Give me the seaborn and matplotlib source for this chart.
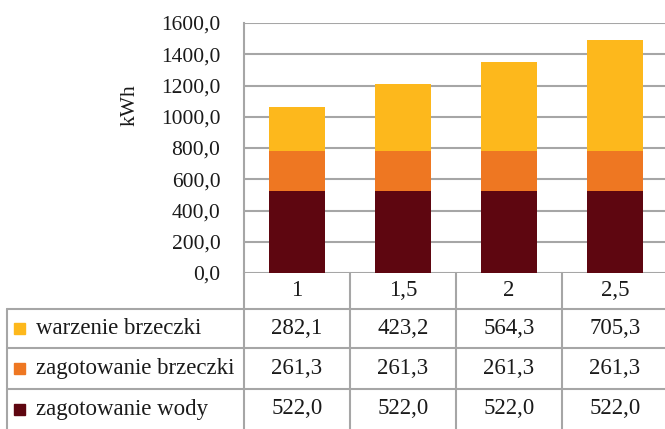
import numpy as np
import pandas as pd
import matplotlib
matplotlib.use("Agg")
import matplotlib.pyplot as plt
import seaborn as sns
from matplotlib.lines import Line2D
from matplotlib.patches import Rectangle

# Data
categories = ["1", "1,5", "2", "2,5"]
series_names = ["warzenie brzeczki", "zagotowanie brzeczki", "zagotowanie wody"]
warzenie_brzeczki = [282.1, 423.2, 564.3, 705.3]
zagotowanie_brzeczki = [261.3, 261.3, 261.3, 261.3]
zagotowanie_wody = [522.0, 522.0, 522.0, 522.0]
series_colors = ["#FDB81C", "#EE7722", "#5E0610"]
y_ticks = np.arange(0, 1601, 200)

W, H = 665, 429
GRID = "#A6A6A6"
TXT = "#1a1a1a"
FS_TICK = 15.5
FS = 16.5

sns.set_theme(style="white")
plt.rcParams["font.family"] = ["Liberation Serif", "DejaVu Serif"]

fig = plt.figure(figsize=(W / 100, H / 100), dpi=100)
ax = fig.add_axes([244 / W, (H - 273) / H, (668 - 244) / W, 250 / H])

df = pd.DataFrame({
    "kat": categories,
    "wody": zagotowanie_wody,
    "brzeczki": zagotowanie_brzeczki,
    "warzenie": warzenie_brzeczki,
})
df["lvl1"] = df["wody"]
df["lvl2"] = df["wody"] + df["brzeczki"]
df["lvl3"] = df["lvl2"] + df["warzenie"]

# stacked bars: draw the full stack first, lower segments on top of it
for col, color in zip(["lvl3", "lvl2", "lvl1"], series_colors):
    sns.barplot(data=df, x="kat", y=col, order=categories, color=color,
                saturation=1, width=0.52, errorbar=None, ax=ax, zorder=3,
                linewidth=0)

ax.set_ylim(0, 1600)
ax.set_xlim(-0.5, 3.5)
ax.set_yticks(y_ticks)
ax.set_yticklabels([f"{v:.1f}".replace(".", ",") for v in y_ticks],
                   fontsize=FS_TICK, color=TXT)
ax.set_xticks([])
ax.set_xlabel("")
ax.set_ylabel("")
ax.tick_params(axis="y", length=0, pad=17)
ax.yaxis.grid(True, color=GRID, linewidth=1.5)
ax.set_axisbelow(True)
for s in ["top", "right", "bottom"]:
    ax.spines[s].set_visible(False)
ax.spines["left"].set_color(GRID)
ax.spines["left"].set_linewidth(1.5)

fig.text(130 / W, 1 - 105 / H, "kWh", rotation=90, fontsize=FS_TICK,
         ha="center", va="center", color=TXT)


def px(x, y):
    return x / W, 1 - y / H


def hline(y, x0, x1):
    (a, b), (c, d) = px(x0, y), px(x1, y)
    fig.add_artist(Line2D([a, c], [b, d], color=GRID, lw=1.5))


def vline(x, y0, y1):
    (a, b), (c, d) = px(x, y0), px(x, y1)
    fig.add_artist(Line2D([a, c], [b, d], color=GRID, lw=1.5))


# data table below the plot
col_edges = [244, 350, 456, 562, 668]
row_edges = [273, 309, 348, 389, 429]
for x in col_edges[:-1]:
    vline(x, row_edges[0], row_edges[-1])
vline(7, row_edges[1], row_edges[-1])
for y in row_edges[1:-1]:
    hline(y, 7, W)

col_centers = [(a + b) / 2 for a, b in zip(col_edges[:-1], col_edges[1:])]
for cx, cat in zip(col_centers, categories):
    fig.text(*px(cx, 291), cat, fontsize=FS, ha="center", va="center",
             color=TXT)

table_rows = [warzenie_brzeczki, zagotowanie_brzeczki, zagotowanie_wody]
for i, (name, vals, color) in enumerate(zip(series_names, table_rows, series_colors)):
    cy = (row_edges[i + 1] + row_edges[i + 2]) / 2
    sx, sy = px(14, cy + 5.5)
    fig.add_artist(Rectangle((sx, sy), 11 / W, 11 / H, color=color,
                             transform=fig.transFigure))
    fig.text(*px(36, cy), name, fontsize=FS, ha="left", va="center",
             color=TXT)
    for cx, v in zip(col_centers, vals):
        fig.text(*px(cx, cy), f"{v:.1f}".replace(".", ","), fontsize=FS,
                 ha="center", va="center", color=TXT)

fig.savefig("out.png", dpi=100)
